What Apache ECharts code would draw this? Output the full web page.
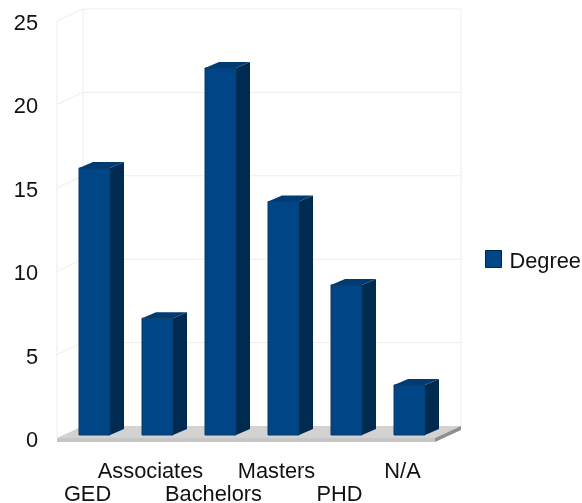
<!DOCTYPE html>
<html><head><meta charset="utf-8">
<style>html,body{margin:0;padding:0;background:#fff}#c{width:582px;height:503px}</style>
<script src="https://cdn.jsdelivr.net/npm/echarts@6/dist/echarts.min.js"></script>
</head><body><div id="c"></div>
<script>
const categories = ['GED','Associates','Bachelors','Masters','PHD','N/A'];
const degreeValues = [16,7,22,14,9,3];
const yTicks = [0,5,10,15,20,25];
const seriesName = 'Degree';

const FRONT='#004586', SIDE='#002a50', TOP='#003c74', EDGE='#00284a';
const WALL='#ededed';
const DX=26, DY=-12, BX=6, BY=-3, BDX=14, BDY=-6, BAR=31, SLAB=4;

const chart = echarts.init(document.getElementById('c'),null,{renderer:'canvas'});

function poly(pts,fill,stroke){
  return {type:'polygon',shape:{points:pts},style:{fill:fill,stroke:stroke||null,lineWidth:stroke?1:0}};
}
function wallItem(params,api){
  const cs=params.coordSys, v=api.value(0);
  const y=api.coord([0,v])[1], l=cs.x, r=cs.x+cs.width;
  const kids=[];
  if(v===0){
    const top=api.coord([0,25])[1];
    kids.push({type:'polyline',shape:{points:[[l,top],[l,y]]},style:{stroke:WALL,fill:null,lineWidth:1}});
    kids.push({type:'polyline',shape:{points:[[l+DX,top+DY],[l+DX,y+DY]]},style:{stroke:WALL,fill:null,lineWidth:1}});
    kids.push({type:'polyline',shape:{points:[[r+DX,top+DY],[r+DX,y+DY]]},style:{stroke:WALL,fill:null,lineWidth:1}});
    kids.push(poly([[l,y],[l+DX,y+DY],[r+DX,y+DY],[r,y]],'#d2d2d2'));
    kids.push(poly([[l,y],[r,y],[r,y+SLAB],[l,y+SLAB]],'#c6c6c6'));
    kids.push(poly([[r,y],[r+DX,y+DY],[r+DX,y+DY+SLAB],[r,y+SLAB]],'#8f8f8f'));
  } else {
    kids.push({type:'polyline',shape:{points:[[l,y],[l+DX,y+DY],[r+DX,y+DY]]},style:{stroke:WALL,fill:null,lineWidth:1}});
  }
  return {type:'group',children:kids};
}
function barItem(params,api){
  const i=api.value(0), v=api.value(1);
  const c=api.coord([i,v]), b=api.coord([i,0]);
  const x0=c[0]-BAR/2+BX, x1=x0+BAR, yt=c[1]+BY, yb=b[1]+BY;
  return {type:'group',children:[
    poly([[x1,yt],[x1+BDX,yt+BDY],[x1+BDX,yb+BDY],[x1,yb]],SIDE),
    poly([[x0,yt],[x0+BDX,yt+BDY],[x1+BDX,yt+BDY],[x1,yt]],TOP),
    poly([[x0,yt],[x1,yt],[x1,yb],[x0,yb]],FRONT,'#0d3a63')
  ]};
}

chart.setOption({
  animation:false,
  backgroundColor:'#fff',
  textStyle:{fontFamily:'Liberation Sans'},
  grid:{left:57,right:147,top:21,bottom:65,containLabel:false,outerBoundsMode:'none'},
  legend:{
    data:[{name:seriesName,icon:'path://M0,0H16V17H0Z M0,22L0,22',itemStyle:{color:FRONT,borderColor:'#00284a',borderWidth:1}}],
    left:480,top:245,orient:'vertical',itemWidth:16,itemHeight:22,itemGap:0,
    textStyle:{fontSize:21.8,color:'#111',fontFamily:'Liberation Sans',padding:[0,0,0,3]},
    selectedMode:false
  },
  xAxis:{
    type:'category',data:categories,
    axisLine:{show:false},axisTick:{show:false},splitLine:{show:false},
    axisLabel:{
      interval:0,margin:22,fontSize:21.8,color:'#111',lineHeight:23,verticalAlign:'top',padding:[0,2,0,0],
      formatter:(name,i)=> i%2===0 ? '\n'+name : name
    }
  },
  yAxis:{
    type:'value',min:0,max:25,interval:5,
    axisLine:{show:false},axisTick:{show:false},splitLine:{show:false},
    axisLabel:{margin:19,fontSize:21.8,color:'#111',verticalAlign:'top',lineHeight:6}
  },
  series:[
    {type:'custom',name:'walls',silent:true,clip:false,z:1,
     coordinateSystem:'cartesian2d',renderItem:wallItem,
     encode:{y:0},data:yTicks.map(v=>[v])},
    {type:'custom',name:seriesName,clip:false,z:2,
     coordinateSystem:'cartesian2d',renderItem:barItem,
     itemStyle:{color:FRONT},encode:{x:0,y:1},
     data:degreeValues.map((v,i)=>[i,v])}
  ]
});
</script></body></html>
